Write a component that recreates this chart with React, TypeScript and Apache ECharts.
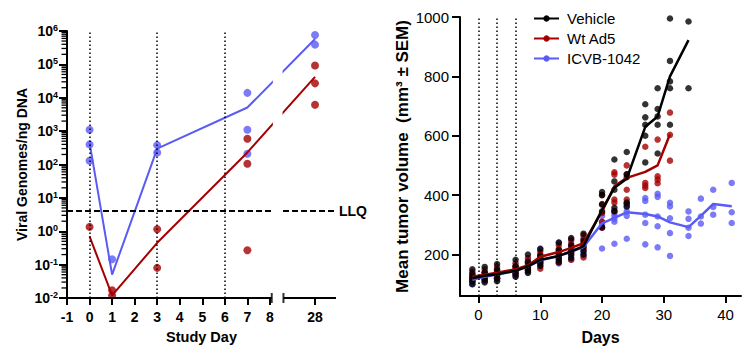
import React, { useEffect, useRef } from 'react';
import * as echarts from 'echarts';

const FONT = '"Liberation Sans", Arial, Helvetica, sans-serif';
const BLUE = '#5a5af5';
const RED = '#a50000';
const BLACK = '#000000';

// ---------- Left chart: viral genomes ----------
const studyDays = [0, 1, 3, 7, 28];
const dayPos = [0, 1, 3, 7, 10]; // axis position (day 28 sits after the axis break)
const xTickValues = [-1, 0, 1, 2, 3, 4, 5, 6, 7, 8, 10];
const xTickLabels = ['-1', '0', '1', '2', '3', '4', '5', '6', '7', '8', '28'];
const icvbGenomes = [[1100, 400, 130], [0.145], [380, 230], [14000, 1100, 210], [760000, 390000]];
const wtGenomes = [[1.35], [0.017, 0.012], [1.15, 0.08], [590, 105, 0.27], [92000, 27000, 6200]];
const icvbGenomeMean = [450, 0.05, 300, 5100, 575000];
const wtGenomeMean = [0.7, 0.012, 0.45, 230, 42000];
const LLQ = 4;
const dosingDaysLeft = [0, 3, 6];

// ---------- Right chart: tumor volume ----------
const tumorDays = [-1, 1, 3, 6, 8, 10, 13, 15, 17, 20, 22, 24, 27, 29, 31, 34, 36, 38, 41];
const dosingDaysRight = [0, 3, 6];
const vehicleMean = [120, 128, 133, 145, 160, 182, 195, 210, 228, 350, 425, 455, 630, 665, 800, 922];
const wtMean = [125, 132, 138, 150, 163, 192, 208, 222, 238, 345, 430, 458, 478, 500, 605];
const icvbMean = [115, 125, 132, 145, 160, 180, 195, 210, 225, 305, 323, 342, 336, 328, 308, 292, 330, 370, 362];
const vehiclePts = [
  [150, 135, 122, 110, 100], [158, 140, 128, 115, 106], [168, 148, 132, 120, 110],
  [182, 160, 145, 135, 125], [200, 175, 158, 148, 138], [218, 195, 180, 170, 162],
  [240, 215, 198, 185, 175], [255, 230, 212, 200, 188], [270, 245, 228, 212, 200],
  [410, 400, 368, 345, 292], [520, 446, 418, 357, 346], [545, 470, 460, 375, 362],
  [706, 662, 637, 600, 510], [760, 690, 665, 637, 540], [995, 852, 783, 760, 637],
  [985, 760],
];
const wtPts = [
  [142, 132, 125, 118, 112], [150, 138, 130, 122, 115], [158, 145, 136, 128, 120],
  [170, 158, 148, 140, 132], [188, 172, 162, 152, 145], [210, 200, 190, 175, 152],
  [232, 218, 205, 190, 172], [250, 235, 220, 205, 182], [265, 250, 238, 220, 190],
  [400, 370, 340, 310, 290], [477, 469, 385, 375, 346], [500, 470, 418, 385, 372],
  [563, 441, 432, 424], [587, 463, 452, 440], [678, 603, 516],
];
const icvbPts = [
  [125, 118, 112, 106, 100], [140, 130, 122, 116, 110], [150, 140, 130, 122, 116],
  [160, 150, 142, 135, 128], [180, 168, 158, 148, 140], [220, 195, 180, 170, 160],
  [240, 210, 195, 182, 170], [245, 222, 208, 195, 182], [255, 235, 222, 210, 198],
  [330, 310, 300, 290, 220], [340, 330, 320, 310, 236], [370, 360, 345, 330, 253],
  [390, 380, 334, 306, 234], [404, 394, 328, 295, 224], [374, 362, 322, 272, 195],
  [345, 320, 290, 262], [388, 328, 304], [418, 360, 334], [441, 342, 306],
];
const yTicksRight = [200, 400, 600, 800, 1000];
const xTicksRight = [0, 10, 20, 30, 40];

const leftScatter = (vals: number[][]) => vals.flatMap((arr, i) => arr.map((v) => [dayPos[i], v]));
const leftLine = (means: number[]) => means.map((v, i) => [dayPos[i], v]);
const rightScatter = (vals: number[][]) => vals.flatMap((arr, i) => arr.map((v) => [tumorDays[i], v]));
const rightLine = (means: number[]) => means.map((v, i) => [tumorDays[i], v]);

// minor log ticks (2..9 × each decade) for the left axis
const minorLogValues: number[] = [];
for (let d = -2; d < 6; d++) for (let k = 2; k <= 9; k++) minorLogValues.push(k * Math.pow(10, d));

const boldText = { fontFamily: FONT, fontWeight: 'bold' as const, color: '#000' };
const dotted = { type: [1.5, 2.5], color: '#000', width: 1.5 };

export default function App() {
  const ref = useRef<HTMLDivElement>(null);
  useEffect(() => {
    document.body.style.margin = '0';
    const chart = echarts.init(ref.current!, null, { renderer: 'svg' });
    const L = { xAxisIndex: 0, yAxisIndex: 0 };
    const R = { xAxisIndex: 1, yAxisIndex: 1 };
    const option: any = {
      animation: false,
      textStyle: { fontFamily: FONT },
      grid: [
        { left: 67, top: 31, width: 269, height: 267 },
        { left: 460, top: 17, width: 281, height: 280 },
      ],
      legend: {
        data: ['Vehicle', 'Wt Ad5', 'ICVB-1042'],
        orient: 'vertical',
        left: 528,
        top: 6,
        itemWidth: 25,
        itemHeight: 8,
        itemGap: 5,
        textStyle: { fontFamily: FONT, fontSize: 15, color: '#000', padding: [0, 0, 0, 3] },
      },
      xAxis: [
        {
          type: 'value', gridIndex: 0, min: -1, max: 10.93,
          axisLine: { show: false, onZero: false },
          axisTick: { customValues: xTickValues, length: 7, lineStyle: { width: 2, color: '#000' } },
          axisLabel: {
            customValues: xTickValues,
            formatter: (v: number) => { const i = xTickValues.indexOf(v); return i >= 0 ? xTickLabels[i] : ''; },
            margin: 12, fontSize: 14, ...boldText,
          },
          splitLine: { show: false },
          name: 'Study Day', nameLocation: 'middle', nameGap: 31,
          nameTextStyle: { ...boldText, fontSize: 14.5 },
        },
        {
          type: 'value', gridIndex: 1, min: -3, max: 42.5,
          axisLine: { onZero: false, lineStyle: { width: 2, color: '#000' } },
          axisTick: { customValues: xTicksRight, length: 7, lineStyle: { width: 2, color: '#000' } },
          axisLabel: {
            customValues: xTicksRight, margin: 11, fontSize: 15, color: '#000', fontFamily: FONT,
            formatter: (v: number) => String(v),
          },
          splitLine: { show: false },
          name: 'Days', nameLocation: 'middle', nameGap: 33,
          nameTextStyle: { ...boldText, fontSize: 16 },
        },
      ],
      yAxis: [
        {
          type: 'log', gridIndex: 0, min: 0.01, max: 1e6, logBase: 10, position: 'left',
          axisLine: { show: true, onZero: false, lineStyle: { width: 2, color: '#000' } },
          axisTick: { length: 8, lineStyle: { width: 2, color: '#000' } },
          axisLabel: {
            margin: 9,
            formatter: (v: number) => '{b|10}{s|' + Math.round(Math.log10(v)) + '}',
            rich: {
              b: { ...boldText, fontSize: 14, lineHeight: 15 },
              s: { ...boldText, fontSize: 9, lineHeight: 9, verticalAlign: 'top' },
            },
          },
          splitLine: { show: false },
          name: 'Viral Genomes/ng DNA', nameLocation: 'middle', nameGap: 38,
          nameTextStyle: { ...boldText, fontSize: 14 },
        },
        {
          type: 'value', gridIndex: 1, min: 60, max: 1000, position: 'left',
          axisLine: { show: true, onZero: false, lineStyle: { width: 2, color: '#000' } },
          axisTick: { customValues: yTicksRight, length: 8, lineStyle: { width: 2, color: '#000' } },
          axisLabel: {
            customValues: yTicksRight, margin: 11, fontSize: 15, color: '#000', fontFamily: FONT,
            formatter: (v: number) => String(v),
          },
          splitLine: { show: false },
          name: 'Mean tumor volume  (mm³ ± SEM)', nameLocation: 'middle', nameGap: 49,
          nameTextStyle: { ...boldText, fontSize: 17 },
        },
      ],
      series: [
        // ----- left chart -----
        {
          type: 'custom', name: 'minor-ticks', ...L,
          data: minorLogValues.map((v) => [-1, v]),
          clip: false, silent: true, z: 12,
          renderItem: (params: any, api: any) => {
            const p = api.coord([api.value(0), api.value(1)]);
            return {
              type: 'line',
              shape: { x1: p[0] - 5.5, y1: p[1], x2: p[0] - 0.5, y2: p[1] },
              style: { stroke: '#000', lineWidth: 1.3 },
            };
          },
        },
        {
          type: 'scatter', name: 'ICVB genomes', ...L, data: leftScatter(icvbGenomes),
          symbolSize: 8, itemStyle: { color: BLUE }, z: 3,
        },
        {
          type: 'scatter', name: 'Wt genomes', ...L, data: leftScatter(wtGenomes),
          symbolSize: 8, itemStyle: { color: RED }, z: 3,
        },
        {
          type: 'line', name: 'ICVB genome mean', ...L, data: leftLine(icvbGenomeMean),
          showSymbol: false, symbol: 'none', lineStyle: { color: BLUE, width: 2 }, z: 4,
          markLine: {
            silent: true, symbol: ['none', 'none'], label: { show: false },
            lineStyle: dotted,
            data: dosingDaysLeft.map((d) => ({ xAxis: d })),
          },
        },
        {
          type: 'line', name: 'Wt genome mean', ...L, data: leftLine(wtGenomeMean),
          showSymbol: false, symbol: 'none', lineStyle: { color: RED, width: 2 }, z: 4,
          markLine: {
            silent: true, symbol: ['none', 'none'],
            lineStyle: { type: [6, 3], color: '#000', width: 2 },
            label: { show: true, position: 'end', formatter: 'LLQ', distance: 3, ...boldText, fontSize: 14 },
            data: [{ yAxis: LLQ }],
          },
        },
        {
          type: 'line', name: 'axis-a', ...L, data: [[-1, 0.01], [8.08, 0.01]],
          showSymbol: false, symbol: 'none', clip: false, lineStyle: { color: '#000', width: 2 }, z: 6,
          markArea: {
            silent: true, z: 10, itemStyle: { color: '#ffffff' },
            data: [[{ xAxis: 8.13 }, { xAxis: 8.56 }]],
          },
        },
        {
          type: 'line', name: 'axis-b', ...L, data: [[8.6, 0.01], [10.93, 0.01]],
          showSymbol: false, symbol: 'none', clip: false, lineStyle: { color: '#000', width: 2 }, z: 6,
        },
        {
          type: 'scatter', name: 'axis-break', ...L, data: [[8.08, 0.01], [8.6, 0.01]],
          symbol: 'rect', symbolSize: [2, 10], clip: false, itemStyle: { color: '#000' }, z: 11,
        },
        // ----- right chart -----
        {
          type: 'scatter', name: 'ICVB pts', ...R, data: rightScatter(icvbPts),
          symbolSize: 6.5, itemStyle: { color: BLUE }, z: 2,
        },
        {
          type: 'scatter', name: 'Wt pts', ...R, data: rightScatter(wtPts),
          symbolSize: 6.5, itemStyle: { color: RED }, z: 2,
        },
        {
          type: 'scatter', name: 'Vehicle pts', ...R, data: rightScatter(vehiclePts),
          symbolSize: 6.5, itemStyle: { color: BLACK }, z: 2,
        },
        {
          type: 'line', name: 'ICVB-1042', ...R, data: rightLine(icvbMean),
          showSymbol: false, symbol: 'circle', symbolSize: 6,
          itemStyle: { color: BLUE }, lineStyle: { color: BLUE, width: 2.5 }, z: 3,
        },
        {
          type: 'line', name: 'Wt Ad5', ...R, data: rightLine(wtMean),
          showSymbol: false, symbol: 'circle', symbolSize: 6,
          itemStyle: { color: RED }, lineStyle: { color: RED, width: 2.5 }, z: 3,
        },
        {
          type: 'line', name: 'Vehicle', ...R, data: rightLine(vehicleMean),
          showSymbol: false, symbol: 'circle', symbolSize: 6,
          itemStyle: { color: BLACK }, lineStyle: { color: BLACK, width: 2.5 }, z: 4,
          markLine: {
            silent: true, symbol: ['none', 'none'], label: { show: false },
            lineStyle: dotted,
            data: dosingDaysRight.map((d) => ({ xAxis: d })),
          },
        },
      ],
    };
    chart.setOption(option);
    return () => chart.dispose();
  }, []);
  return <div ref={ref} style={{ width: 742, height: 350 }} />;
}
